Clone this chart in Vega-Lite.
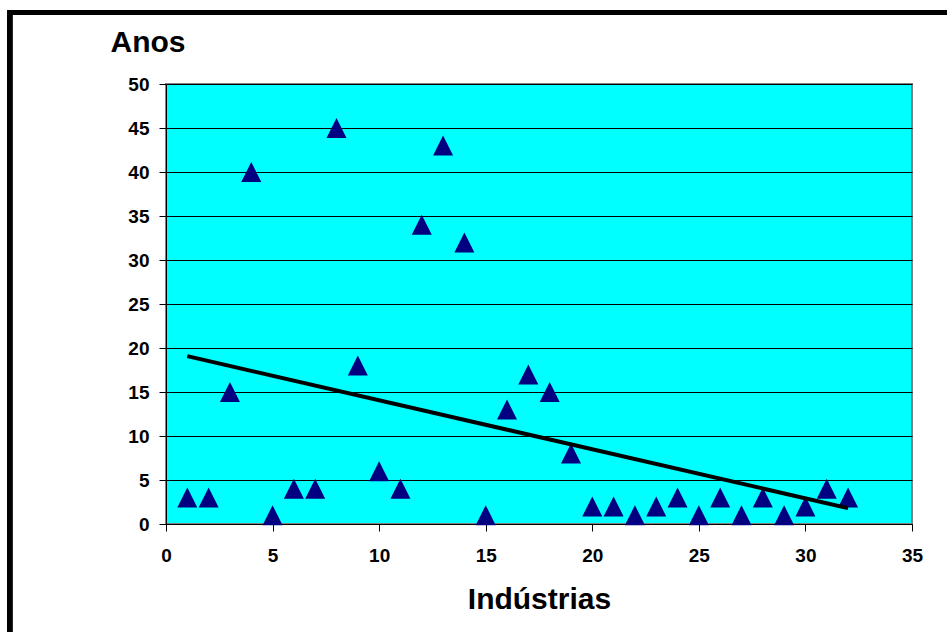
{
  "$schema": "https://vega.github.io/schema/vega-lite/v6.json",
  "width": 746,
  "height": 440,
  "autosize": {"type": "none"},
  "padding": {"left": 166, "top": 84, "right": 35, "bottom": 108},
  "background": "white",
  "config": {
    "font": "Liberation Sans",
    "view": {"fill": "#00FFFF", "stroke": "#808080", "strokeWidth": 2},
    "axis": {
      "labelFont": "Liberation Sans",
      "labelFontWeight": "bold",
      "labelFontSize": 19,
      "labelColor": "black",
      "titleFont": "Liberation Sans",
      "titleFontWeight": "bold",
      "titleFontSize": 30,
      "titleColor": "black",
      "domainColor": "black",
      "domainWidth": 1,
      "tickColor": "black",
      "tickWidth": 1,
      "tickSize": 7
    }
  },
  "data": {
    "values": [
      {"industria": 1, "anos": 3},
      {"industria": 2, "anos": 3},
      {"industria": 3, "anos": 15},
      {"industria": 4, "anos": 40},
      {"industria": 5, "anos": 1},
      {"industria": 6, "anos": 4},
      {"industria": 7, "anos": 4},
      {"industria": 8, "anos": 45},
      {"industria": 9, "anos": 18},
      {"industria": 10, "anos": 6},
      {"industria": 11, "anos": 4},
      {"industria": 12, "anos": 34},
      {"industria": 13, "anos": 43},
      {"industria": 14, "anos": 32},
      {"industria": 15, "anos": 1},
      {"industria": 16, "anos": 13},
      {"industria": 17, "anos": 17},
      {"industria": 18, "anos": 15},
      {"industria": 19, "anos": 8},
      {"industria": 20, "anos": 2},
      {"industria": 21, "anos": 2},
      {"industria": 22, "anos": 1},
      {"industria": 23, "anos": 2},
      {"industria": 24, "anos": 3},
      {"industria": 25, "anos": 1},
      {"industria": 26, "anos": 3},
      {"industria": 27, "anos": 1},
      {"industria": 28, "anos": 3},
      {"industria": 29, "anos": 1},
      {"industria": 30, "anos": 2},
      {"industria": 31, "anos": 4},
      {"industria": 32, "anos": 3}
    ]
  },
  "encoding": {
    "x": {
      "field": "industria",
      "type": "quantitative",
      "scale": {"domain": [0, 35], "nice": false, "zero": false},
      "axis": {
        "values": [0, 5, 10, 15, 20, 25, 30, 35],
        "grid": false,
        "labelBaseline": "alphabetic",
        "labelPadding": 30,
        "labelFlush": false,
        "title": "Indústrias",
        "titleBaseline": "alphabetic",
        "titleY": 84
      }
    },
    "y": {
      "field": "anos",
      "type": "quantitative",
      "scale": {"domain": [0, 50], "nice": false, "zero": false},
      "axis": {
        "values": [0, 5, 10, 15, 20, 25, 30, 35, 40, 45, 50],
        "grid": true,
        "gridColor": "black",
        "gridWidth": 1,
        "gridOpacity": 1,
        "labelPadding": 10,
        "labelFlush": false,
        "title": "Anos",
        "titleAngle": 0,
        "titleAlign": "left",
        "titleBaseline": "alphabetic",
        "titleX": -56,
        "titleY": -33
      }
    }
  },
  "layer": [
    {
      "mark": {"type": "rect", "filled": false, "stroke": "black", "strokeWidth": 5, "clip": false},
      "encoding": {
        "x": {"datum": -7.34},
        "x2": {"datum": 60},
        "y": {"datum": 58.13},
        "y2": {"datum": -30}
      }
    },
    {
      "mark": {
        "type": "point",
        "shape": "M-1,1L1,1L0,-1Z",
        "filled": true,
        "color": "#000080",
        "opacity": 1,
        "size": 400,
        "strokeWidth": 0
      }
    },
    {
      "transform": [
        {"regression": "anos", "on": "industria", "extent": [1, 32]}
      ],
      "mark": {"type": "line", "color": "black", "strokeWidth": 4}
    }
  ]
}
